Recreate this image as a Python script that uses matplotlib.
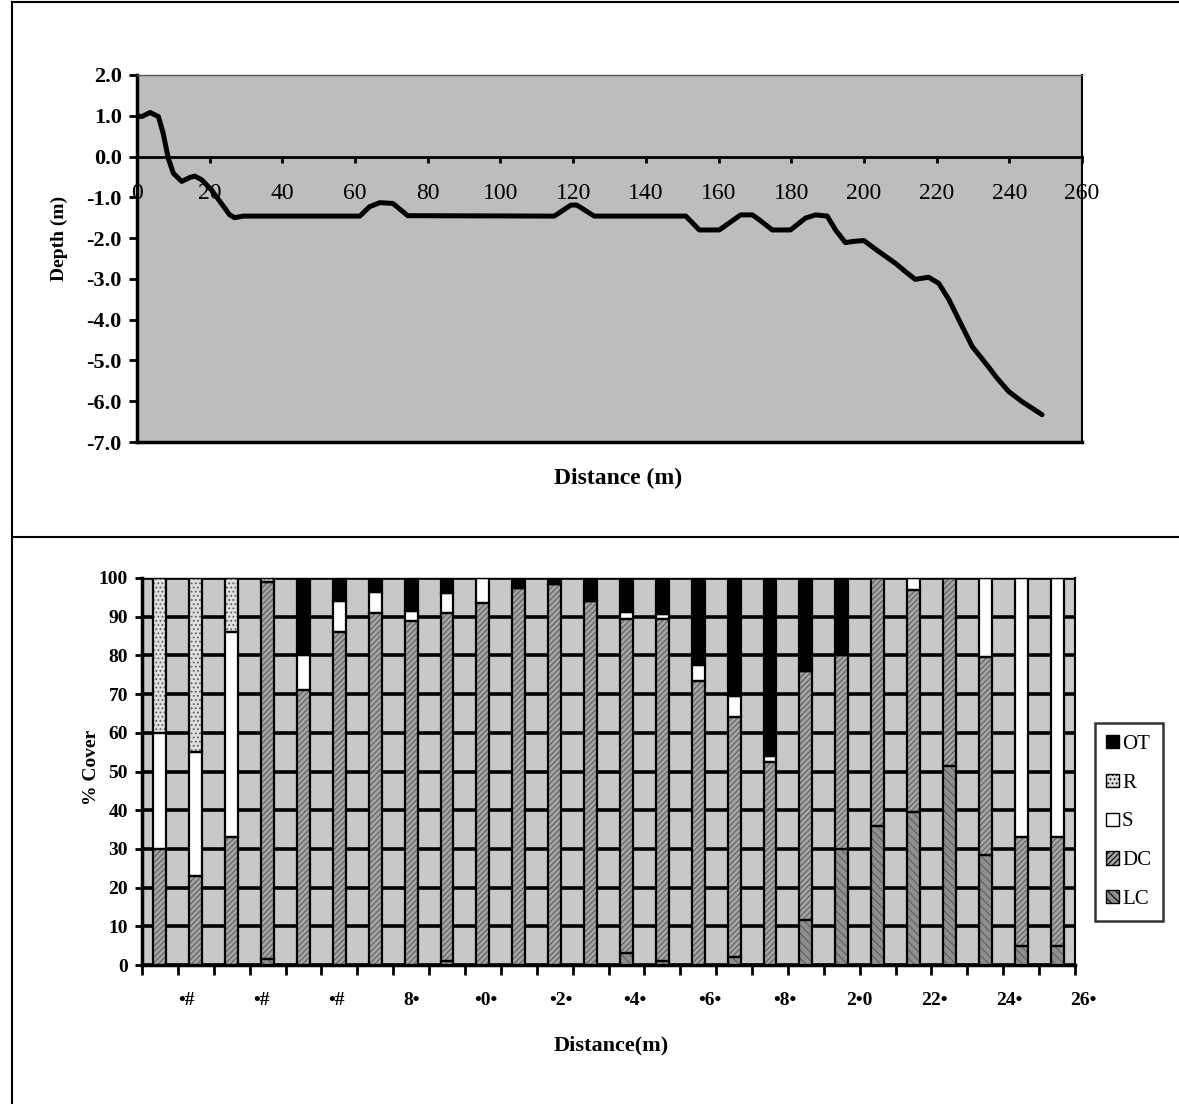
import numpy as np
import matplotlib.pyplot as plt
from matplotlib.patches import Patch
from matplotlib.lines import Line2D
from matplotlib.transforms import blended_transform_factory

plt.rcParams['font.family'] = ['Liberation Serif', 'DejaVu Sans']
plt.rcParams['hatch.linewidth'] = 0.8

# upper panel: depth profile (m)
distance = [0, 1.3, 3.6, 5.9, 7.2, 8.6, 10, 12.3, 14.6, 15.9, 17.8, 20.5, 22.8, 25.5, 26.9,
            29.2, 61.3, 64, 66.8, 70.4, 74.5, 114.8, 119.4, 121, 125.8, 151, 154.7, 160.2,
            166.1, 169.3, 171.2, 174.8, 179.8, 183.9, 186.7, 189.9, 192.2, 194.9, 197.2,
            200, 204.1, 208.7, 211.4, 214.1, 217.8, 220.6, 223.4, 226.6, 229.8, 233.5,
            236.6, 239.8, 243.5, 249]
depth = [1.0, 0.98, 1.08, 0.98, 0.57, -0.04, -0.41, -0.61, -0.51, -0.48, -0.57, -0.82, -1.1,
         -1.43, -1.5, -1.46, -1.46, -1.23, -1.13, -1.15, -1.45, -1.46, -1.19, -1.19, -1.46,
         -1.46, -1.8, -1.8, -1.43, -1.43, -1.55, -1.8, -1.8, -1.51, -1.43, -1.46, -1.8,
         -2.11, -2.08, -2.06, -2.33, -2.62, -2.82, -3.01, -2.96, -3.11, -3.51, -4.09,
         -4.66, -5.07, -5.43, -5.76, -6.01, -6.33]

# lower panel: % cover at each point along the transect
points = np.arange(26)
lc = [0, 0, 0, 1.5, 0, 0, 0, 0, 1, 0, 0, 0, 0, 3, 1, 0, 2, 0, 11.5, 30, 36, 39.5, 51.5, 28.5, 5, 5]
dc = [30, 23, 33, 97.5, 71, 86, 91, 89, 90, 93.5, 97.5, 98.5, 94, 86.5, 88.5, 73.5, 62, 52.5,
      64.5, 50, 64, 57.5, 48.5, 51, 28, 28]
s = [30, 32, 53, 0, 9, 8, 5.5, 2.5, 5, 6.5, 0, 0, 0, 1.7, 1.3, 4, 5.5, 1.5, 0, 0, 0, 3, 0, 20.5, 67, 67]
r = [40, 45, 14, 1, 0, 0, 0, 0, 0, 0, 0, 0, 0, 0, 0, 0, 0, 0, 0, 0, 0, 0, 0, 0, 0, 0]
ot = [0, 0, 0, 0, 20, 6, 3.5, 8.5, 4, 0, 2.5, 1.5, 6, 8.8, 9.2, 22.5, 30.5, 46, 24, 20, 0, 0, 0, 0, 0, 0]
dist_labels = ['•#', '•#', '•#', '8•', '•0•', '•2•', '•4•', '•6•', '•8•', '2•0', '22•', '24•', '26•']

W, H = 1179, 1104
fig = plt.figure(figsize=(W / 100, H / 100), dpi=100)


def px_rect(x0, y0, x1, y1):
    return [x0 / W, 1 - y1 / H, (x1 - x0) / W, (y1 - y0) / H]


# ---- upper panel ----
ax1 = fig.add_axes(px_rect(137, 75, 1082, 442))
ax1.set_facecolor('#bdbdbd')
ax1.plot(distance, depth, color='black', lw=3.6, solid_joinstyle='round', solid_capstyle='round')
ax1.set_xlim(0, 260)
ax1.set_ylim(-7, 2)
yt = np.arange(-7, 2.1, 1.0)
ax1.set_yticks(yt)
ax1.set_yticklabels([f'{v:.1f}' for v in yt], fontweight='bold', fontsize=16)
ax1.set_xticks(np.arange(0, 261, 20))
ax1.spines['bottom'].set_position(('data', 0))
ax1.spines['bottom'].set_linewidth(2)
ax1.spines['left'].set_linewidth(2.5)
ax1.spines['top'].set_linewidth(1)
ax1.spines['top'].set_color('#555555')
ax1.spines['right'].set_linewidth(1.5)
ax1.axhline(-7, color='black', lw=2.5, clip_on=False)
ax1.tick_params(axis='x', direction='out', length=4, width=2, pad=15, labelsize=17)
ax1.tick_params(axis='y', direction='out', length=6, width=2, pad=5)
ax1.set_ylabel('Depth (m)', fontweight='bold', fontsize=14)
ax1.yaxis.set_label_coords(-0.073, 0.556)
fig.text(618 / W, 1 - 478 / H, 'Distance (m)', ha='center', va='center',
         fontweight='bold', fontsize=17)

# ---- lower panel ----
ax2 = fig.add_axes(px_rect(142, 578, 1075, 965))
ax2.set_facecolor('#c8c8c8')
ax2.set_axisbelow(True)
ax2.grid(axis='y', color='black', lw=2.6)

series = [('LC', lc, '#8e8e8e', '\\\\\\\\'),
          ('DC', dc, '#a4a4a4', '//////'),
          ('S', s, 'white', None),
          ('R', r, '#e0e0e0', '....'),
          ('OT', ot, 'black', None)]
bottom = np.zeros(len(points))
handles = []
for name, vals, col, hatch in series:
    vals = np.array(vals, dtype=float)
    ax2.bar(points, vals, 0.36, bottom=bottom, color=col, hatch=hatch,
            edgecolor='#606060', lw=0, zorder=3)
    ax2.bar(points, vals, 0.36, bottom=bottom, fill=False, edgecolor='black',
            lw=1.6, zorder=4)
    handles.append(Patch(facecolor=col, edgecolor='black', hatch=hatch, label=name))
    bottom += vals

ax2.set_xlim(-0.5, 25.5)
ax2.set_ylim(0, 100)
ax2.set_yticks(np.arange(0, 101, 10))
ax2.set_yticklabels([str(v) for v in range(0, 101, 10)], fontweight='bold', fontsize=14)
ax2.set_xticks(np.arange(-0.5, 26, 1))
ax2.set_xticklabels([])
ax2.tick_params(axis='x', direction='out', length=7, width=2)
ax2.tick_params(axis='y', direction='out', length=5, width=2, pad=5)
for side in ['left', 'bottom']:
    ax2.spines[side].set_linewidth(2.5)
ax2.spines['top'].set_linewidth(1)
ax2.spines['right'].set_linewidth(1.5)

trans = blended_transform_factory(ax2.transData, ax2.transAxes)
for i, lab in enumerate(dist_labels):
    ax2.text(0.754 + 2.082 * i, -0.092, lab, transform=trans, ha='center', va='center',
             fontsize=14, fontweight='bold', clip_on=False)

ax2.set_ylabel('% Cover', fontweight='bold', fontsize=14)
ax2.yaxis.set_label_coords(-0.045, 0.51)
fig.text(611 / W, 1 - 1045 / H, 'Distance(m)', ha='center', va='center',
         fontweight='bold', fontsize=16)

leg = fig.legend(handles=handles[::-1], loc='center left',
                 bbox_to_anchor=(1095 / W, 1 - 822 / H), fontsize=15,
                 frameon=True, fancybox=False, edgecolor='black',
                 handlelength=0.6, handleheight=0.6, handletextpad=0.15,
                 labelspacing=0.95, borderpad=0.55, borderaxespad=0)
leg.get_frame().set_linewidth(1.8)

# outer frame of the figure
fig.add_artist(Line2D([12 / W, 12 / W], [0, 1 - 2 / H], color='black', lw=1.5))
fig.add_artist(Line2D([12 / W, 1], [1 - 2 / H, 1 - 2 / H], color='black', lw=1.5))
fig.add_artist(Line2D([12 / W, 1], [1 - 537 / H, 1 - 537 / H], color='black', lw=1.5))

fig.savefig('out.png', dpi=100)
